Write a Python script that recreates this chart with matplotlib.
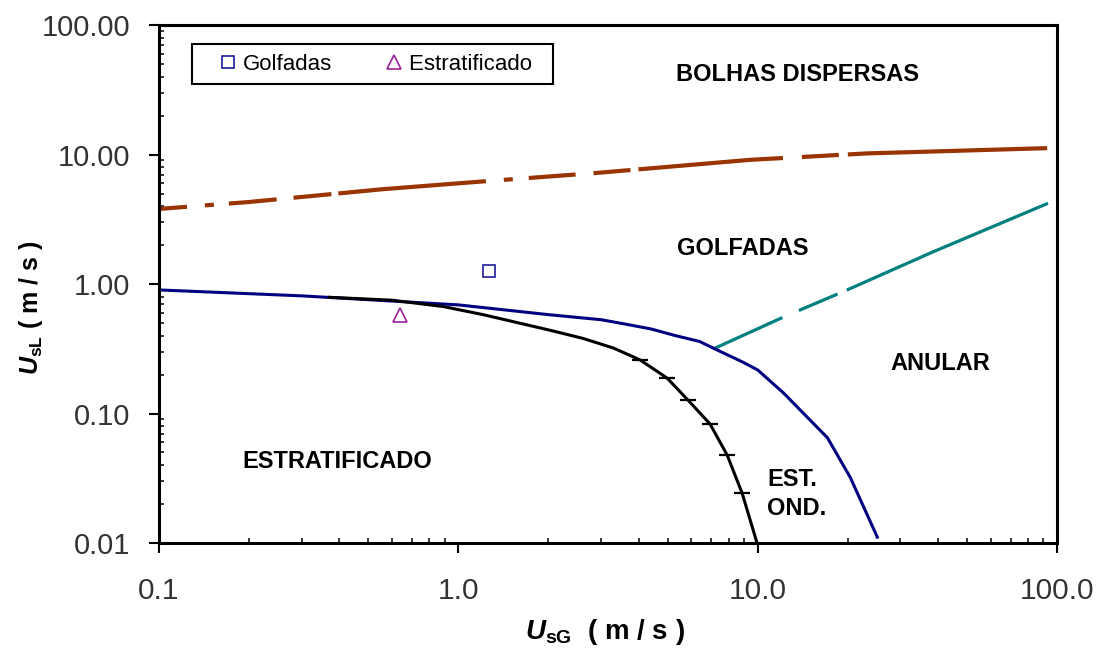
import matplotlib
matplotlib.use('Agg')
import matplotlib.pyplot as plt
from matplotlib.lines import Line2D
from matplotlib.ticker import FixedLocator, FixedFormatter, LogLocator, NullFormatter

plt.rcParams['font.family'] = ['Liberation Sans', 'DejaVu Sans']
plt.rcParams['mathtext.fontset'] = 'custom'
plt.rcParams['mathtext.rm'] = 'Liberation Sans:bold'
plt.rcParams['mathtext.it'] = 'Liberation Sans:italic:bold'
plt.rcParams['mathtext.bf'] = 'Liberation Sans:bold'
plt.rcParams['lines.scale_dashes'] = False

# fronteira bolhas dispersas / golfadas
bd_x = [0.1, 0.2, 0.56, 1.21, 2.88, 9.44, 23.2, 92.7]
bd_y = [3.8, 4.3, 5.4, 6.2, 7.2, 9.1, 10.2, 11.2]

# fronteira golfadas / anular
an_x = [7.1, 12.2, 19.9, 38.5, 93.3]
an_y = [0.315, 0.556, 0.90, 1.77, 4.2]

# fronteira estratificado / golfadas (e anular)
st_x = [0.1, 0.3, 1.0, 2.0, 3.0, 3.45, 4.4, 5.3, 6.4, 7.1, 8.9, 10.0, 12.2, 17.1, 20.4, 25.1]
st_y = [0.90, 0.81, 0.69, 0.58, 0.53, 0.50, 0.45, 0.40, 0.36, 0.32, 0.25, 0.217, 0.144, 0.065, 0.032, 0.0111]

# fronteira estratificado liso / ondulado
wv_x = [0.37, 0.6, 0.89, 1.21, 2.02, 2.61, 3.3, 4.05, 4.98, 5.85, 6.93, 7.9, 8.87, 9.95]
wv_y = [0.79, 0.75, 0.67, 0.58, 0.44, 0.38, 0.32, 0.259, 0.188, 0.127, 0.083, 0.048, 0.0243, 0.01]
wv_marks = [7, 8, 9, 10, 11, 12]

# pontos experimentais
golf_x, golf_y = [1.27], [1.26]
estr_x, estr_y = [0.638], [0.577]

x_ticks = [0.1, 1, 10, 100]
x_labels = ['0.1', '1.0', '10.0', '100.0']
y_ticks = [0.01, 0.1, 1, 10, 100]
y_labels = ['0.01', '0.10', '1.00', '10.00', '100.00']


def px(seq):
    return [v * 0.72 for v in seq]


fig = plt.figure(figsize=(11.03, 6.5), dpi=100)
ax = fig.add_axes([0.1442, 0.1646, 0.8141, 0.7969])

ax.plot(bd_x, bd_y, color='#993300', lw=3,
        dashes=px([28, 18, 9, 15, 48, 17, 38, 7, 148, 18, 9, 16, 47, 18, 37, 8, 145, 19, 37, 9, 201, 30]),
        dash_capstyle='butt')
ax.plot(an_x, an_y, color='#008080', lw=2.3,
        dashes=px([76, 18, 42, 10, 240, 20]), dash_capstyle='butt')
ax.plot(st_x, st_y, color='#000080', lw=2.2)
ax.plot(wv_x, wv_y, color='black', lw=2.2, marker='_', ms=11, mew=1.6,
        markevery=wv_marks)

ax.plot(golf_x, golf_y, ls='none', marker='s', ms=8.5, mfc='none', mec='#1c1c99', mew=1.2)
ax.plot(estr_x, estr_y, ls='none', marker='^', ms=10, mfc='none', mec='#9a1f9a', mew=1.2)

ax.set_xscale('log')
ax.set_yscale('log')
ax.set_xlim(0.1, 100)
ax.set_ylim(0.01, 100)

ax.xaxis.set_major_locator(FixedLocator(x_ticks))
ax.xaxis.set_major_formatter(FixedFormatter(x_labels))
ax.yaxis.set_major_locator(FixedLocator(y_ticks))
ax.yaxis.set_major_formatter(FixedFormatter(y_labels))
ax.xaxis.set_minor_locator(LogLocator(base=10, subs=range(2, 10)))
ax.yaxis.set_minor_locator(LogLocator(base=10, subs=range(2, 10)))
ax.xaxis.set_minor_formatter(NullFormatter())
ax.yaxis.set_minor_formatter(NullFormatter())

ax.tick_params(which='major', direction='out', length=7.5, width=1.5, top=False, right=False)
ax.tick_params(which='minor', direction='in', length=3.8, width=1.1, top=False, right=False)
ax.tick_params(axis='y', which='major', pad=13, labelsize=21, labelcolor='#333333')
ax.tick_params(axis='x', which='major', pad=17, labelcolor='#333333')
for lab in ax.get_xticklabels():
    lab.set_family(['Liberation Sans Narrow', 'Liberation Sans'])
    lab.set_fontsize(21.5)

for s in ax.spines.values():
    s.set_linewidth(2.2)

fig.text(605 / 1103, 1 - 632 / 650, r'$\mathit{U}_{\mathrm{sG}}$  ( m / s )',
         ha='center', va='center', fontsize=20, fontweight='bold')
fig.text(31 / 1103, 1 - 308 / 650, r'$\mathit{U}_{\mathrm{sL}}$ ( m / s )',
         ha='center', va='center', fontsize=18, fontweight='bold', rotation=90)

lab_kw = dict(transform=ax.transAxes, ha='center', va='center', fontsize=17, fontweight='bold')
ax.text(0.7105, 0.9054, 'BOLHAS DISPERSAS', **lab_kw)
ax.text(0.650, 0.5695, 'GOLFADAS', **lab_kw)
ax.text(0.8697, 0.3475, 'ANULAR', **lab_kw)
ax.text(0.1982, 0.1564, 'ESTRATIFICADO', **lab_kw)
ax.text(0.7105, 0.0946, 'EST.\nOND.', multialignment='left', linespacing=1.35, **lab_kw)

h1 = Line2D([], [], ls='none', marker='s', ms=8.5, mfc='none', mec='#1c1c99', mew=1.2)
h2 = Line2D([], [], ls='none', marker='^', ms=10, mfc='none', mec='#9a1f9a', mew=1.2)
leg = ax.legend([h1, h2], ['Golfadas', 'Estratificado  '], ncol=2, loc='upper left',
                bbox_to_anchor=(0.0367, 0.963), borderaxespad=0, fancybox=False,
                edgecolor='black', framealpha=1, fontsize=16, borderpad=0.43,
                handlelength=2.4, handletextpad=-0.55, columnspacing=1.6)
leg.get_frame().set_linewidth(1.5)

fig.savefig('out.png', dpi=100)
